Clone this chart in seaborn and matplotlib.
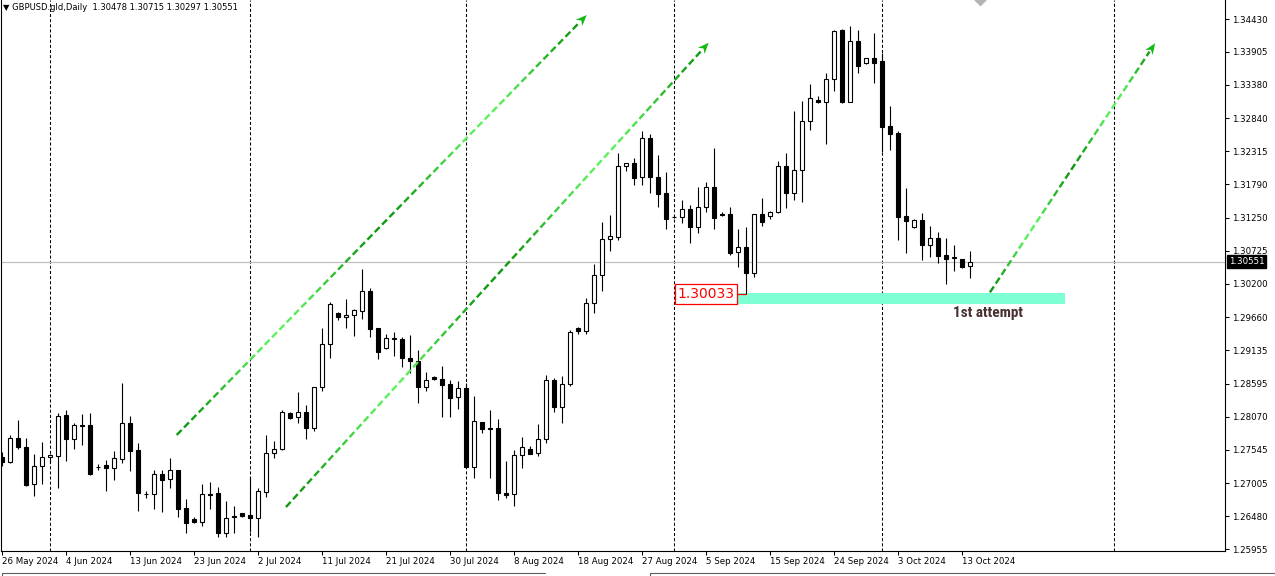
import numpy as np
import pandas as pd
import matplotlib
matplotlib.use("Agg")
import matplotlib.pyplot as plt
import matplotlib.transforms as mtransforms
from matplotlib.collections import LineCollection
from matplotlib.patches import Polygon, Rectangle
from matplotlib.lines import Line2D
import seaborn as sns

# ---- data: GBPUSD.gld daily bars (broker feed includes Sunday bars) ----
dates = [d for d in pd.date_range("2024-05-26", "2024-10-14") if d.weekday() != 5]

opens = [1.27432, 1.27342, 1.27726, 1.27582, 1.26990, 1.27288, 1.27422, 1.27448, 1.28098, 1.27720,
         1.27938, 1.27938, 1.27272, 1.27294, 1.27256, 1.27400, 1.27970, 1.27539, 1.26835, 1.26840,
         1.27150, 1.27070, 1.27219, 1.26611, 1.26430, 1.26392, 1.26835, 1.26846, 1.26216, 1.26472,
         1.26526, 1.26494, 1.26456, 1.26872, 1.27486, 1.27550, 1.28125, 1.28061, 1.28151, 1.27885,
         1.28541, 1.29229, 1.29724, 1.29660, 1.29692, 1.29766, 1.30081, 1.29485, 1.29165, 1.29319,
         1.29314, 1.29005, 1.28967, 1.28551, 1.28706, 1.28674, 1.28589, 1.28381, 1.28530, 1.27272,
         1.27981, 1.27885, 1.27885, 1.26846, 1.26830, 1.27454, 1.27550, 1.27486, 1.27710, 1.28653,
         1.28231, 1.28589, 1.29485, 1.29447, 1.29884, 1.30332, 1.30908, 1.30950, 1.32075, 1.32128,
         1.31900, 1.32523, 1.31909, 1.31643, 1.31269, 1.31269, 1.31387, 1.31109, 1.31419, 1.31739,
         1.31307, 1.31307, 1.30700, 1.30780, 1.30364, 1.31307, 1.31280, 1.31339, 1.32080, 1.31653,
         1.32011, 1.32795, 1.33135, 1.33098, 1.33466, 1.34254, 1.33108, 1.34074, 1.33731, 1.33801,
         1.33759, 1.32714, 1.32602, 1.31280, 1.31109, 1.31211, 1.30822, 1.30924, 1.30657, 1.30614,
         1.30588, 1.30478]
highs = [1.27507, 1.27779, 1.28019, 1.27726, 1.27475, 1.27667, 1.27475, 1.28125, 1.28178, 1.27965,
         1.28114, 1.28125, 1.27320, 1.27379, 1.27523, 1.28615, 1.28082, 1.27656, 1.26883, 1.27219,
         1.27219, 1.27406, 1.27227, 1.26750, 1.26467, 1.26990, 1.27032, 1.26942, 1.26723, 1.26643,
         1.26539, 1.27102, 1.26936, 1.27779, 1.27683, 1.28178, 1.28141, 1.28461, 1.28253, 1.28554,
         1.29485, 1.29900, 1.29740, 1.29948, 1.29788, 1.30433, 1.30129, 1.29490, 1.29389, 1.29426,
         1.29341, 1.29373, 1.29138, 1.28781, 1.28722, 1.28877, 1.28653, 1.28642, 1.28605, 1.28402,
         1.27986, 1.28178, 1.28029, 1.27363, 1.27539, 1.27747, 1.27598, 1.27954, 1.28738, 1.28685,
         1.28722, 1.29453, 1.29511, 1.29964, 1.30513, 1.31185, 1.31296, 1.32283, 1.32128, 1.32203,
         1.32640, 1.32592, 1.32256, 1.31980, 1.31296, 1.31536, 1.31456, 1.31749, 1.31829, 1.32373,
         1.31349, 1.31419, 1.31072, 1.31109, 1.31312, 1.31563, 1.31360, 1.32155, 1.32293, 1.32959,
         1.33124, 1.33391, 1.33199, 1.33572, 1.34254, 1.34265, 1.34318, 1.34254, 1.33806, 1.34201,
         1.33882, 1.33039, 1.32640, 1.31723, 1.31227, 1.31325, 1.31120, 1.31024, 1.30924, 1.30817,
         1.30593, 1.30715]
lows = [1.27283, 1.27326, 1.27550, 1.26971, 1.26808, 1.27000, 1.27331, 1.26936, 1.27368, 1.27555,
        1.27619, 1.27147, 1.27219, 1.26888, 1.27059, 1.27336, 1.27208, 1.26568, 1.26776, 1.26600,
        1.26552, 1.26931, 1.26462, 1.26216, 1.26366, 1.26328, 1.26600, 1.26152, 1.26140, 1.26206,
        1.26472, 1.26232, 1.26152, 1.26792, 1.27416, 1.27539, 1.28039, 1.27965, 1.27710, 1.27837,
        1.28487, 1.29015, 1.29617, 1.29494, 1.29361, 1.29638, 1.29350, 1.28999, 1.29157, 1.29047,
        1.28871, 1.28775, 1.28285, 1.28487, 1.28666, 1.28061, 1.28071, 1.28199, 1.27264, 1.27086,
        1.27816, 1.27096, 1.26739, 1.26776, 1.26648, 1.27256, 1.27475, 1.27448, 1.27643, 1.28151,
        1.27975, 1.28567, 1.29389, 1.29389, 1.29734, 1.30086, 1.30726, 1.30897, 1.32005, 1.31781,
        1.31781, 1.31653, 1.31429, 1.31077, 1.31243, 1.31173, 1.30853, 1.31003, 1.31349, 1.31072,
        1.31285, 1.30652, 1.30465, 1.30033, 1.30310, 1.31120, 1.31237, 1.31331, 1.31413, 1.31536,
        1.31509, 1.32660, 1.33090, 1.32432, 1.33284, 1.33092, 1.33098, 1.33572, 1.33715, 1.33412,
        1.32309, 1.32336, 1.30897, 1.30684, 1.31083, 1.30577, 1.30620, 1.30524, 1.30193, 1.30406,
        1.30444, 1.30297]
closes = [1.27342, 1.27726, 1.27582, 1.26979, 1.27288, 1.27422, 1.27454, 1.28087, 1.27720, 1.27938,
          1.27930, 1.27160, 1.27275, 1.27256, 1.27406, 1.27965, 1.27528, 1.26856, 1.26830, 1.27150,
          1.27064, 1.27219, 1.26600, 1.26376, 1.26382, 1.26835, 1.26827, 1.26216, 1.26451, 1.26478,
          1.26483, 1.26459, 1.26883, 1.27486, 1.27550, 1.28141, 1.28055, 1.28151, 1.27885, 1.28546,
          1.29229, 1.29868, 1.29660, 1.29692, 1.29777, 1.30077, 1.29478, 1.29111, 1.29325, 1.29325,
          1.29005, 1.28967, 1.28551, 1.28653, 1.28674, 1.28583, 1.28375, 1.28530, 1.27272, 1.27997,
          1.27869, 1.27880, 1.26846, 1.26824, 1.27454, 1.27582, 1.27480, 1.27710, 1.28653, 1.28231,
          1.28589, 1.29421, 1.29447, 1.29889, 1.30332, 1.30908, 1.30956, 1.32075, 1.32123, 1.31893,
          1.32523, 1.31909, 1.31627, 1.31237, 1.31272, 1.31387, 1.31109, 1.31419, 1.31739, 1.31253,
          1.31302, 1.30694, 1.30780, 1.30364, 1.31307, 1.31189, 1.31339, 1.32080, 1.31653, 1.32011,
          1.32795, 1.33162, 1.33098, 1.33466, 1.34234, 1.33108, 1.34074, 1.33684, 1.33801, 1.33731,
          1.32708, 1.32596, 1.31269, 1.31205, 1.31211, 1.30822, 1.30924, 1.30646, 1.30598, 1.30618,
          1.30470, 1.30551]

price_ticks = [1.25955, 1.26480, 1.27005, 1.27545, 1.28070, 1.28595, 1.29135, 1.29660, 1.30200,
               1.30725, 1.31250, 1.31790, 1.32315, 1.32840, 1.33380, 1.33905, 1.34430]
month_start_bars = [6, 31, 58, 84, 110, 139]

# drawn objects (bar index, price)
arrow_from = [(21.8, 1.27779), (35.46, 1.26627), (123.46, 1.30060)]
arrow_to = [(73.05, 1.34494), (88.3, 1.34051), (144.1, 1.34042)]
zone_bars = (91.8, 132.9)
zone_prices = (1.29873, 1.30057)
low_label_bar = 93
low_label_price = 1.30033
attempt_pos = (123.2, 1.29729)
marker_pos = (122.2, 1.34768)

# ---- figure ----
sns.set_theme(style="white", rc={
    "axes.edgecolor": "black", "text.color": "black",
    "xtick.color": "black", "ytick.color": "black",
    "lines.scale_dashes": False,
})
plt.rcParams["font.family"] = ["DejaVu Sans"]

W, H = 1275, 576
fig = plt.figure(figsize=(W / 100, H / 100), dpi=100, facecolor="white")
ax = fig.add_axes([1 / W, 25 / H, 1224 / W, 551 / H])
ax.set_facecolor("white")
ax.set_xlim(-0.1625, 152.84)
ax.set_ylim(1.25924, 1.34734)

n = len(dates)
x = np.arange(n)
o = np.array(opens); h = np.array(highs); l = np.array(lows); c = np.array(closes)
up = c >= o

# month grid
for b in month_start_bars:
    ax.axvline(b, color="black", lw=0.75, ls=(0, (2.2, 1.5)), zorder=1)

# current price line
ax.axhline(c[-1], color="#c0c0c0", lw=0.9, zorder=1.5)

# support zone
ax.add_patch(Rectangle((zone_bars[0], zone_prices[0]), zone_bars[1] - zone_bars[0],
                       zone_prices[1] - zone_prices[0], facecolor="#7fffd4",
                       edgecolor="none", zorder=2))

# candles
ax.vlines(x, l, h, color="black", lw=0.8, zorder=3)
body_bottom = np.minimum(o, c)
body_h = np.maximum(np.abs(c - o), 0.00001)
ax.bar(x, body_h, bottom=body_bottom, width=0.5,
       color=np.where(up, "white", "black"), edgecolor="black", linewidth=0.8, zorder=4)

# gray marker peeking at top
ax.plot([marker_pos[0]], [marker_pos[1]], marker="D", ms=7, color="#b4b4b4",
        mec="#b4b4b4", zorder=2, clip_on=True)

# gradient dashed arrows
dark = np.array(matplotlib.colors.to_rgb("#0f990f"))
light = np.array(matplotlib.colors.to_rgb("#5cf25c"))
inv = ax.transData.inverted()


def draw_arrow(p0, p1):
    a = ax.transData.transform(p0)
    b = ax.transData.transform(p1)
    v = b - a
    L = np.hypot(*v)
    u = v / L
    nrm = np.array([-u[1], u[0]])
    head_len, head_w = 11.0, 9.0
    segs, cols = [], []
    s = 0.0
    while s < L - head_len:
        e = min(s + 7.0, L - head_len + 1)
        t = (s + e) / 2 / L
        w = 0.5 - 0.5 * np.cos(4 * np.pi * t)
        segs.append(inv.transform([a + u * s, a + u * e]))
        cols.append(dark * (1 - w) + light * w)
        s += 10.5
    ax.add_collection(LineCollection(segs, colors=cols, linewidths=1.7,
                                     capstyle="butt", zorder=5))
    base = b - u * head_len
    head = [b, base + nrm * head_w / 2, b - u * head_len * 0.7, base - nrm * head_w / 2]
    ax.add_patch(Polygon(inv.transform(head), closed=True, facecolor="#14b914",
                         edgecolor="none", zorder=5))


for p0, p1 in zip(arrow_from, arrow_to):
    draw_arrow(p0, p1)

# low price label
ax.text(87.96, low_label_price, f"{low_label_price:.5f}", color="red", fontsize=10,
        ha="center", va="center", zorder=7,
        bbox=dict(boxstyle="square,pad=0.2", fc="white", ec="red", lw=0.9))
ax.plot([91.8, low_label_bar], [low_label_price, low_label_price], color="red", lw=0.9, zorder=6)

ax.text(attempt_pos[0], attempt_pos[1], "1st attempt", color="#4a3030", fontsize=11,
        fontweight="bold", ha="center", va="center", zorder=7,
        family=["Liberation Sans Narrow", "Roboto Condensed", "DejaVu Sans"])

# axes
ax.grid(False)
for side in ["left", "right", "bottom"]:
    ax.spines[side].set_visible(True)
    ax.spines[side].set_color("black")
    ax.spines[side].set_linewidth(0.8)
ax.spines["top"].set_visible(False)

ax.yaxis.tick_right()
ax.set_yticks(price_ticks)
ax.set_yticklabels([f"{v:.5f}" for v in price_ticks], fontsize=6.2)
ax.tick_params(axis="y", right=True, left=False, length=3, width=0.75, pad=2, direction="out")

xt = list(range(0, n, 8))
ax.set_xticks(xt)
ax.set_xticklabels([f"{dates[i].day} {dates[i]:%b %Y}" for i in xt], fontsize=6.2, ha="left")
ax.tick_params(axis="x", bottom=True, length=3, width=0.75, pad=1.5, direction="out")

# current price tag on the price scale
ax.annotate(f"{c[-1]:.5f}", xy=(1, c[-1]),
            xycoords=mtransforms.blended_transform_factory(ax.transAxes, ax.transData),
            xytext=(4, 0), textcoords="offset pixels", ha="left", va="center",
            color="white", fontsize=6.2, annotation_clip=False,
            bbox=dict(boxstyle="square,pad=0.2", fc="black", ec="black"))

# header
fig.text(3 / W, 1 - 7 / H,
         "\u25bc GBPUSD.gld,Daily  %.5f %.5f %.5f %.5f" % (o[-1], h[-1], l[-1], c[-1]),
         fontsize=6, ha="left", va="center")

# bottom tab strip
for x0, x1 in [(2, 545), (650, 1275)]:
    fig.add_artist(Line2D([x0 / W, x1 / W], [3 / H, 3 / H], transform=fig.transFigure,
                          color="#606060", lw=0.8))
    fig.add_artist(Line2D([x0 / W, x0 / W], [0, 3 / H], transform=fig.transFigure,
                          color="#606060", lw=0.8))

fig.savefig("out.png", dpi=100, facecolor="white")
